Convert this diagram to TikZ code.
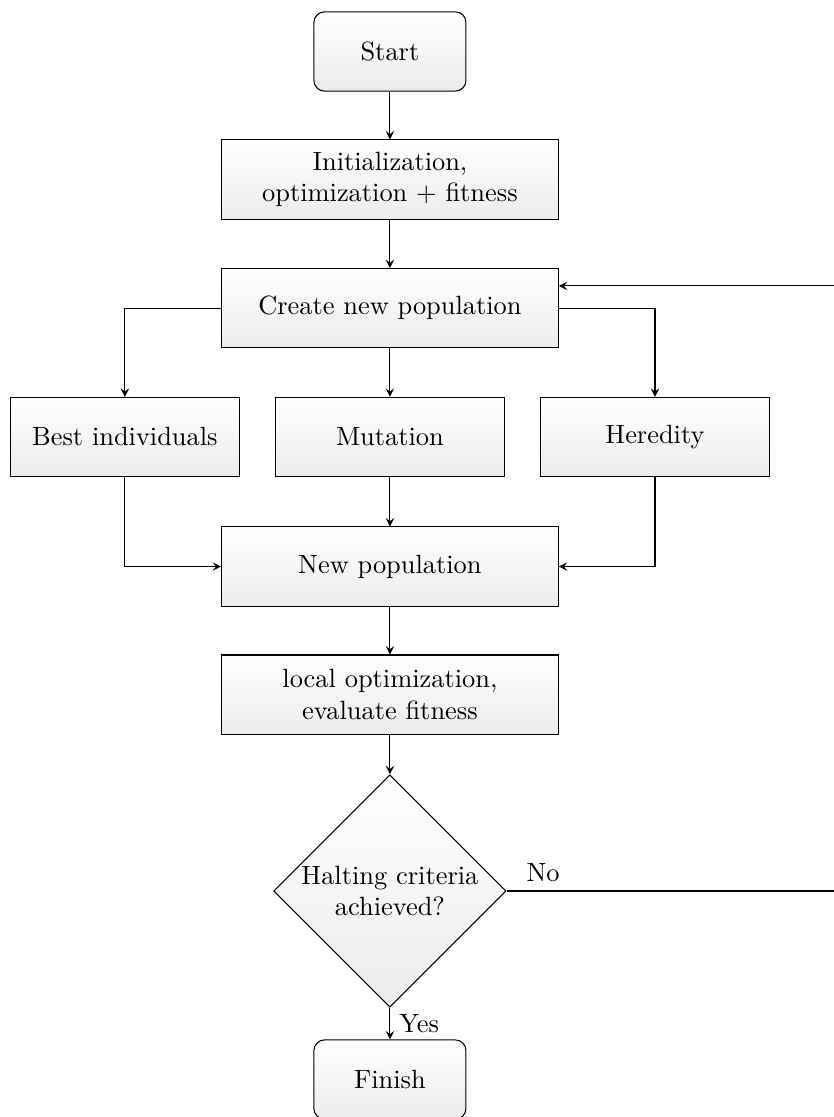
\documentclass[tikz,border=0pt]{standalone}
\usepackage{amsmath}
\usepackage{amssymb}
\usepackage{tikz}
\usetikzlibrary{shapes.geometric, arrows}

\begin{document}
\begin{tikzpicture}
      \useasboundingbox (0pt, 0pt) rectangle (315.9pt, -423.1pt);

      {\tikzstyle{every node}=[draw, top color=white, bottom color=gray!15, align=center, minimum height=30pt]
        \tikzstyle{termbox}=[rounded corners=4pt, minimum width=57.6pt]
        \tikzstyle{stepbox}=[minimum width=127.5pt]
        \tikzstyle{branchbox}=[minimum width=87pt]
        \tikzstyle{testbox}=[diamond, aspect=1, inner sep=0.5pt]

        \node[termbox] (start) at (147.7pt, -19.5pt) {Start};
        \node[stepbox] (init) at (147.7pt, -68pt) {Initialization,\\ optimization $+$ fitness};
        \node[stepbox] (create) at (147.7pt, -116.7pt) {Create new population};

        \foreach \name/\txt [count=\i from 0] in {best/Best individuals, mutation/Mutation, heredity/Heredity}
        {
          \node[branchbox] (\name) at (47.3pt + \i*100.4pt, -165.5pt) {\txt};
        }

        \node[stepbox] (newpop) at (147.7pt, -214.6pt) {New population};
        \node[stepbox] (local) at (147.7pt, -263.1pt) {local optimization,\\ evaluate fitness};
        \node[testbox] (halt) at (147.7pt, -337.5pt) {Halting criteria\\ achieved?};
        \node[termbox] (finish) at (147.7pt, -408.9pt) {Finish};
      }

      \coordinate (loop) at (317pt, 0pt);

      \foreach \a/\b in {start/init, init/create, create/mutation, mutation/newpop, newpop/local, local/halt}
      {
        \draw [-stealth] (\a) -- (\b);
      }

      \draw [-stealth] (create.west) -| (best);
      \draw [-stealth] (create.east) -| (heredity);
      \draw [-stealth] (best) |- (newpop);
      \draw [-stealth] (heredity) |- (newpop);

      \draw [-stealth] (halt) -- node[right] {Yes} (finish);
      \draw [-stealth]
        (halt.east) -- node[above, pos=0.11] {No} (halt.east -| loop)
        |- ([yshift=8.4pt]create.east);
    \end{tikzpicture}
\end{document}
